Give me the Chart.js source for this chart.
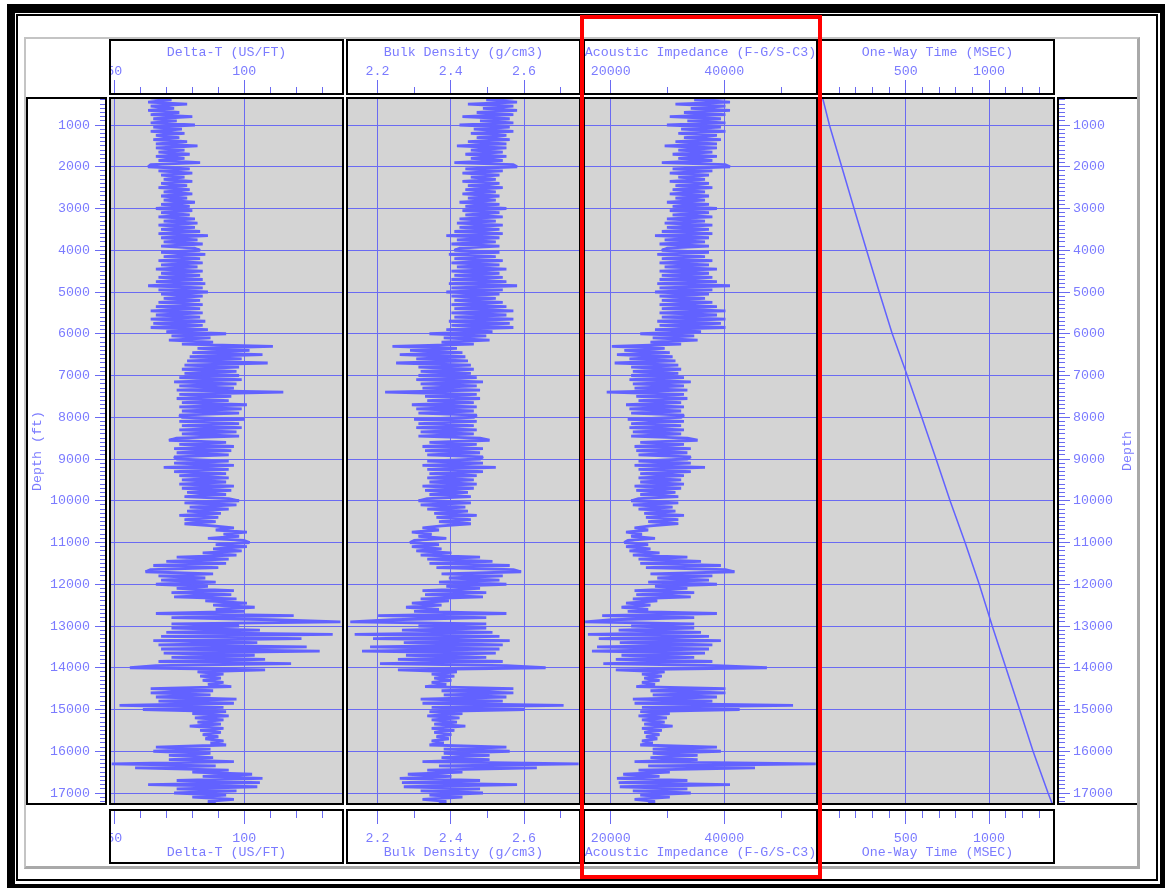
<!DOCTYPE html>
<html><head><meta charset="utf-8">
<script src="https://cdn.jsdelivr.net/npm/chart.js@4.4.1/dist/chart.umd.min.js"></script>
<style>
html,body{margin:0;padding:0;background:#fff;}
body{width:1165px;height:888px;position:relative;overflow:hidden;}
.b{position:absolute;box-sizing:border-box;}
canvas{position:absolute;}
</style></head><body>
<script>
// ---------------- DATA ----------------
const DEPTH_TOP = 350, DEPTH_STEP = 50;   // log sampling grid (ft)
const DEPTH_MIN = 329, DEPTH_MAX = 17287; // depth range shown
const DEPTH_LABELS = [1000,2000,3000,4000,5000,6000,7000,8000,9000,10000,11000,12000,13000,14000,15000,16000,17000];

const DT = [64,72,63,78,64,73,63,75,64,80,65,74,64,
81,65,76,64,77,66,75,65,78,66,82,66,77,67,79,66,77,67,83,64,
63,79,67,80,68,77,69,80,68,78,67,79,69,80,68,78,69,81,68,79,
66,80,68,79,67,81,69,82,67,81,68,83,67,86,68,82,69,84,68,81,
83,68,85,69,83,67,84,68,82,66,84,68,83,67,84,66,85,63,84,67,
86,68,84,69,83,67,84,66,83,64,84,66,83,64,85,65,84,64,86,70,
93,72,87,71,88,76,111,82,102,80,107,79,99,78,109,77,98,76,97,77,
98,75,99,73,97,75,96,74,115,75,95,74,94,76,101,75,99,76,98,75,
76,100,75,98,76,99,75,97,76,98,74,71,93,75,96,73,95,74,94,73,
74,94,73,96,69,94,73,93,75,94,76,93,75,96,76,95,78,93,77,94,
98,77,97,79,94,78,91,75,90,77,89,77,88,96,89,101,92,98,86,100,
102,89,101,88,99,84,97,74,94,70,93,65,90,64,62,88,67,85,68,89,
66,86,74,96,72,95,73,97,85,101,88,104,89,100,66,119,72,111,137,72,
98,72,106,70,134,68,122,65,105,67,124,68,129,69,104,72,108,67,118,66,
56,108,82,92,83,91,84,92,86,95,64,88,64,87,66,97,67,96,52,92,
61,93,80,94,81,92,82,91,79,92,83,91,84,90,85,92,87,93,66,87,
65,87,71,88,71,96,49,89,58,94,80,103,84,107,74,106,63,105,74,97,
73,93,80,96,86,89];

const RHOB = [2.571,2.497,2.581,2.447,2.571,2.488,2.581,2.471,2.571,2.432,2.561,2.480,2.571,
2.424,2.561,2.463,2.571,2.455,2.552,2.471,2.561,2.447,2.552,2.417,2.552,2.455,2.542,2.440,2.552,2.455,2.542,2.410,2.571,
2.581,2.440,2.542,2.432,2.533,2.455,2.523,2.432,2.533,2.447,2.542,2.440,2.523,2.432,2.533,2.447,2.523,2.424,2.533,2.440,
2.552,2.432,2.533,2.440,2.542,2.424,2.523,2.417,2.542,2.424,2.533,2.410,2.542,2.388,2.533,2.417,2.523,2.402,2.533,2.424,
2.410,2.533,2.395,2.523,2.410,2.542,2.402,2.533,2.417,2.552,2.402,2.533,2.410,2.542,2.402,2.552,2.395,2.581,2.402,2.542,
2.388,2.533,2.402,2.523,2.410,2.542,2.402,2.552,2.410,2.571,2.402,2.552,2.410,2.571,2.395,2.561,2.402,2.571,2.388,2.514,
2.342,2.497,2.381,2.506,2.375,2.463,2.241,2.417,2.289,2.432,2.261,2.440,2.306,2.447,2.251,2.455,2.312,2.463,2.318,2.455,
2.312,2.471,2.306,2.488,2.318,2.471,2.323,2.480,2.221,2.471,2.330,2.480,2.336,2.463,2.294,2.471,2.306,2.463,2.312,2.471,
2.463,2.300,2.471,2.312,2.463,2.306,2.471,2.318,2.463,2.312,2.480,2.506,2.342,2.471,2.323,2.488,2.330,2.480,2.336,2.488,
2.480,2.336,2.488,2.323,2.523,2.336,2.488,2.342,2.471,2.336,2.463,2.342,2.471,2.323,2.463,2.330,2.447,2.342,2.455,2.336,
2.312,2.455,2.318,2.440,2.336,2.447,2.355,2.471,2.361,2.455,2.368,2.455,2.375,2.323,2.368,2.294,2.348,2.312,2.388,2.300,
2.289,2.368,2.294,2.375,2.306,2.402,2.318,2.480,2.336,2.514,2.342,2.561,2.361,2.571,2.592,2.375,2.542,2.395,2.533,2.368,
2.552,2.388,2.480,2.323,2.497,2.330,2.488,2.318,2.395,2.294,2.375,2.278,2.368,2.300,2.552,2.202,2.497,2.241,2.126,2.497,
2.312,2.497,2.267,2.514,2.138,2.533,2.188,2.561,2.272,2.542,2.180,2.533,2.158,2.523,2.278,2.497,2.256,2.542,2.207,2.552,
2.659,2.256,2.417,2.348,2.410,2.355,2.402,2.348,2.388,2.330,2.571,2.375,2.571,2.381,2.552,2.318,2.542,2.323,2.708,2.348,
2.602,2.342,2.432,2.336,2.424,2.348,2.417,2.355,2.440,2.348,2.410,2.355,2.402,2.361,2.395,2.348,2.381,2.342,2.552,2.381,
2.561,2.381,2.506,2.375,2.506,2.323,2.749,2.368,2.635,2.336,2.432,2.283,2.402,2.261,2.480,2.267,2.581,2.272,2.480,2.318,
2.488,2.342,2.432,2.323,2.388,2.368];

const AI = [40200,34700,41000,31400,40200,34100,41000,32900,40200,30400,39400,33500,40200,
29900,39400,32400,40200,31900,38700,32900,39400,31400,38700,29500,38700,31900,37900,30900,38700,31900,37900,29000,40200,
41000,30900,37900,30400,37300,31900,36600,30400,37300,31400,37900,30900,36600,30400,37300,31400,36600,29900,37300,30900,
38700,30400,37300,30900,37900,29900,36600,29500,37900,29900,37300,29000,37900,27800,37300,29500,36600,28600,37300,29900,
29000,37300,28200,36600,29000,37900,28600,37300,29500,38700,28600,37300,29000,37900,28600,38700,28200,41000,28600,37900,
27800,37300,28600,36600,29000,37900,28600,38700,29000,40200,28600,38700,29000,40200,28200,39400,28600,40200,27800,35900,
25200,34700,27400,35300,27000,32400,20200,29500,22400,30400,21100,30900,23300,31400,20700,31900,23600,32400,23900,31900,
23600,32900,23300,34100,23900,32900,24200,33500,19300,32900,24500,33500,24900,32400,22700,32900,23300,32400,23600,32900,
32400,23000,32900,23600,32400,23300,32900,23900,32400,23600,33500,35300,25200,32900,24200,34100,24500,33500,24900,34100,
33500,24900,34100,24200,36600,24900,34100,25200,32900,24900,32400,25200,32900,24200,32400,24500,31400,25200,31900,24900,
23600,31900,23900,30900,24900,31400,25900,32900,26200,31900,26600,31900,27000,24200,26600,22700,25500,23600,27800,23000,
22400,26600,22700,27000,23300,28600,23900,33500,24900,35900,25200,39400,26200,40200,41800,27000,37900,28200,37300,26600,
38700,27800,33500,24200,34700,24500,34100,23900,28200,22700,27000,21900,26600,23000,38700,18500,34700,20200,15500,34700,
23600,34700,21400,35900,16000,37300,17900,39400,21600,37900,17600,37300,16700,36600,21900,34700,20900,37900,18700,38700,
47500,20900,29500,25500,29000,25900,28600,25500,27800,24500,40200,27000,40200,27400,38700,23900,37900,24200,52100,25500,
42700,25200,30400,24900,29900,25500,29500,25900,30900,25500,29000,25900,28600,26200,28200,25500,27400,25200,38700,27400,
39400,27400,35300,27000,35300,24200,56100,26600,45400,24900,30400,22200,28600,21100,33500,21400,41000,21600,33500,23900,
34100,25200,30400,24200,27800,26600];

const TIME_DEPTH = [329,1000,2000,3000,4000,5000,6000,7000,8000,9000,10000,11000,12000,13000,14000,15000,16000,17000,17287];
const TIME = [0,42,116,190,265,341,419,509,596,682,766,856,941,1019,1101,1183,1264,1354,1382];

const DT_MAJOR = [50,100], DT_MINOR = [60,70,80,90,110,120,130];
const RHOB_MAJOR = [2.2,2.4,2.6], RHOB_MINOR = [2.3,2.5,2.7];
const AI_MAJOR = [20000,40000], AI_MINOR = [30000,50000];
const TIME_MAJOR = [500,1000], TIME_MINOR = [100,200,300,400,600,700,800,900,1100,1200,1300];

// ---------------- STYLE ----------------
const GRID = '#6a6af2', CURVE = '#6262ff', TEXT = '#7b7bff', BG = '#d4d4d4';
const FF = '"Liberation Mono","DejaVu Sans Mono",monospace';
const F = {family: FF, size: 13.3, lineHeight: 1.2};

function box(l, t, w, h, css) {
  const d = document.createElement('div');
  d.className = 'b';
  d.style.cssText += `left:${l}px;top:${t}px;width:${w}px;height:${h}px;` + (css || '');
  document.body.appendChild(d);
  return d;
}
function mkCanvas(l, t, w, h) {
  const c = document.createElement('canvas');
  c.width = w; c.height = h;
  c.style.cssText = `left:${l}px;top:${t}px;width:${w}px;height:${h}px;`;
  document.body.appendChild(c);
  return c;
}
const tickIt = arr => s => { s.ticks = arr.map(v => ({value: v})); };
const minorDepth = s => { const a = []; for (let d = 400; d <= 17200; d += 100) if (d % 1000) a.push({value: d}); s.ticks = a; };

const depthPts = vals => vals.map((v, i) => ({x: v, y: DEPTH_TOP + i * DEPTH_STEP}));

const TRACKS = [
  {left: 109, title: 'Delta-T (US/FT)', min: 47.96, max: 138.35, major: DT_MAJOR, minor: DT_MINOR, points: depthPts(DT), lw: 2.8},
  {left: 346, title: 'Bulk Density (g/cm3)', min: 2.1143, max: 2.7555, major: RHOB_MAJOR, minor: RHOB_MINOR, points: depthPts(RHOB), lw: 2.8},
  {left: 583, title: 'Acoustic Impedance (F-G/S-C3)', min: 15123, max: 56496, major: AI_MAJOR, minor: AI_MINOR, points: depthPts(AI), lw: 2.8},
  {left: 820, title: 'One-Way Time (MSEC)', min: -14.4, max: 1395.6, major: TIME_MAJOR, minor: TIME_MINOR, points: TIME.map((t, i) => ({x: t, y: TIME_DEPTH[i]})), lw: 1.5}
];

const baseOpts = () => ({
  responsive: false, animation: false, devicePixelRatio: 1, events: [],
  layout: {padding: 0, autoPadding: false},
  plugins: {legend: {display: false}, tooltip: {enabled: false}}
});

// frame
box(24, 37, 1116, 832, 'border-top:2px solid #c4c4c4;border-left:2px solid #c4c4c4;border-right:3px solid #a9a9a9;border-bottom:3px solid #a9a9a9;');
// backgrounds
TRACKS.forEach(t => box(t.left, 97, 235, 708, `background:${BG};`));

function trackChart(t) {
  const cv = mkCanvas(t.left, 39, 235, 825);
  const c = {type: 'linear', min: t.min, max: t.max, border: {display: false}};
  const fitH = h => s => { s.height = h; s.paddingLeft = 0; s.paddingRight = 0; };
  const o = baseOpts();
  o.scales = {
    x: {...c, position: 'top', weight: 1, afterBuildTicks: tickIt(t.major), afterFit: fitH(58),
      grid: {color: GRID, lineWidth: 1, tickLength: 17, drawOnChartArea: true},
      ticks: {autoSkip: false, maxRotation: 0, minRotation: 0, padding: 1, color: TEXT, font: F, callback: v => String(v)},
      title: {display: true, text: t.title, color: TEXT, font: F, padding: {top: 5, bottom: 0}}},
    xm: {...c, position: 'top', weight: 0, afterBuildTicks: tickIt(t.minor), afterFit: fitH(0),
      grid: {color: GRID, tickLength: 10, drawOnChartArea: false}, ticks: {display: false}},
    xb: {...c, position: 'bottom', weight: 1, afterBuildTicks: tickIt(t.major), afterFit: fitH(59),
      grid: {color: GRID, tickLength: 19, drawOnChartArea: false},
      ticks: {autoSkip: false, maxRotation: 0, minRotation: 0, padding: 6, color: TEXT, font: F, callback: v => String(v)},
      title: {display: true, text: t.title, color: TEXT, font: F, padding: {top: 0, bottom: 4}}},
    xbm: {...c, position: 'bottom', weight: 0, afterBuildTicks: tickIt(t.minor), afterFit: fitH(0),
      grid: {color: GRID, tickLength: 13, drawOnChartArea: false}, ticks: {display: false}},
    y: {type: 'linear', position: 'left', reverse: true, min: DEPTH_MIN, max: DEPTH_MAX,
      afterBuildTicks: tickIt(DEPTH_LABELS), afterFit: s => { s.width = 0; s.paddingTop = 0; s.paddingBottom = 0; },
      grid: {color: GRID, lineWidth: 1, drawTicks: false}, border: {display: false}, ticks: {display: false}}
  };
  new Chart(cv, {
    type: 'scatter',
    data: {datasets: [{data: t.points, xAxisID: 'x', yAxisID: 'y', showLine: true, pointRadius: 0, pointHoverRadius: 0,
      borderColor: CURVE, borderWidth: t.lw, tension: 0, fill: false, borderJoinStyle: 'bevel'}]},
    options: o
  });
}
TRACKS.forEach(trackChart);

function depthChart(left, width, side, majW, majTL, minTL, pad, title) {
  const cv = mkCanvas(left, 97, width, 708);
  const o = baseOpts();
  const cy = {type: 'linear', position: side, reverse: true, min: DEPTH_MIN, max: DEPTH_MAX, border: {display: false}};
  o.scales = {
    x: {type: 'linear', display: false, min: 0, max: 1},
    y: {...cy, weight: 1, afterBuildTicks: tickIt(DEPTH_LABELS),
      afterFit: s => { s.width = majW; s.paddingTop = 0; s.paddingBottom = 0; },
      grid: {color: GRID, tickLength: majTL, drawOnChartArea: false},
      ticks: {autoSkip: false, padding: pad, color: TEXT, font: F, callback: v => String(v)},
      title: title ? {display: true, text: title, color: TEXT, font: F, padding: {top: 3, bottom: 0}} : {display: false}},
    ym: {...cy, weight: 0, afterBuildTicks: minorDepth,
      afterFit: s => { s.width = 0; s.paddingTop = 0; s.paddingBottom = 0; },
      grid: {color: GRID, tickLength: minTL, drawOnChartArea: false}, ticks: {display: false}}
  };
  new Chart(cv, {type: 'scatter', data: {datasets: []}, options: o});
}
depthChart(26, 81, 'left', 80, 11, 6, 5, 'Depth (ft)');
depthChart(1057, 83, 'right', 82, 12, 7, 3, null);

// gaps and borders
TRACKS.forEach(t => {
  box(t.left, 95, 235, 2, 'background:#fff;');
  box(t.left, 805, 235, 4, 'background:#fff;');
  box(t.left, 39, 235, 56, 'border:2px solid #000;');
  box(t.left, 97, 235, 708, 'border:2px solid #000;');
  box(t.left, 809, 235, 55, 'border:2px solid #000;');
});
box(26, 97, 81, 708, 'border:2px solid #000;');
box(1057, 97, 80, 708, 'border-left:2px solid #000;border-top:2px solid #000;border-bottom:2px solid #000;');

const rt = document.createElement('div');
rt.textContent = 'Depth';
rt.style.cssText = `position:absolute;left:1128px;top:451px;transform:translate(-50%,-50%) rotate(-90deg);font-family:${FF};font-size:13.3px;line-height:16px;color:${TEXT};white-space:nowrap;`;
document.body.appendChild(rt);

// outer frames
box(7, 4, 1158, 884, 'border-style:solid;border-color:#000;border-width:9px 5px 4px 8px;');
box(16, 14, 1142, 867, 'border:2px solid #000;');
// highlight rectangle
box(580, 15, 242, 864, 'border:4px solid #ff0000;');
</script>
</body></html>
